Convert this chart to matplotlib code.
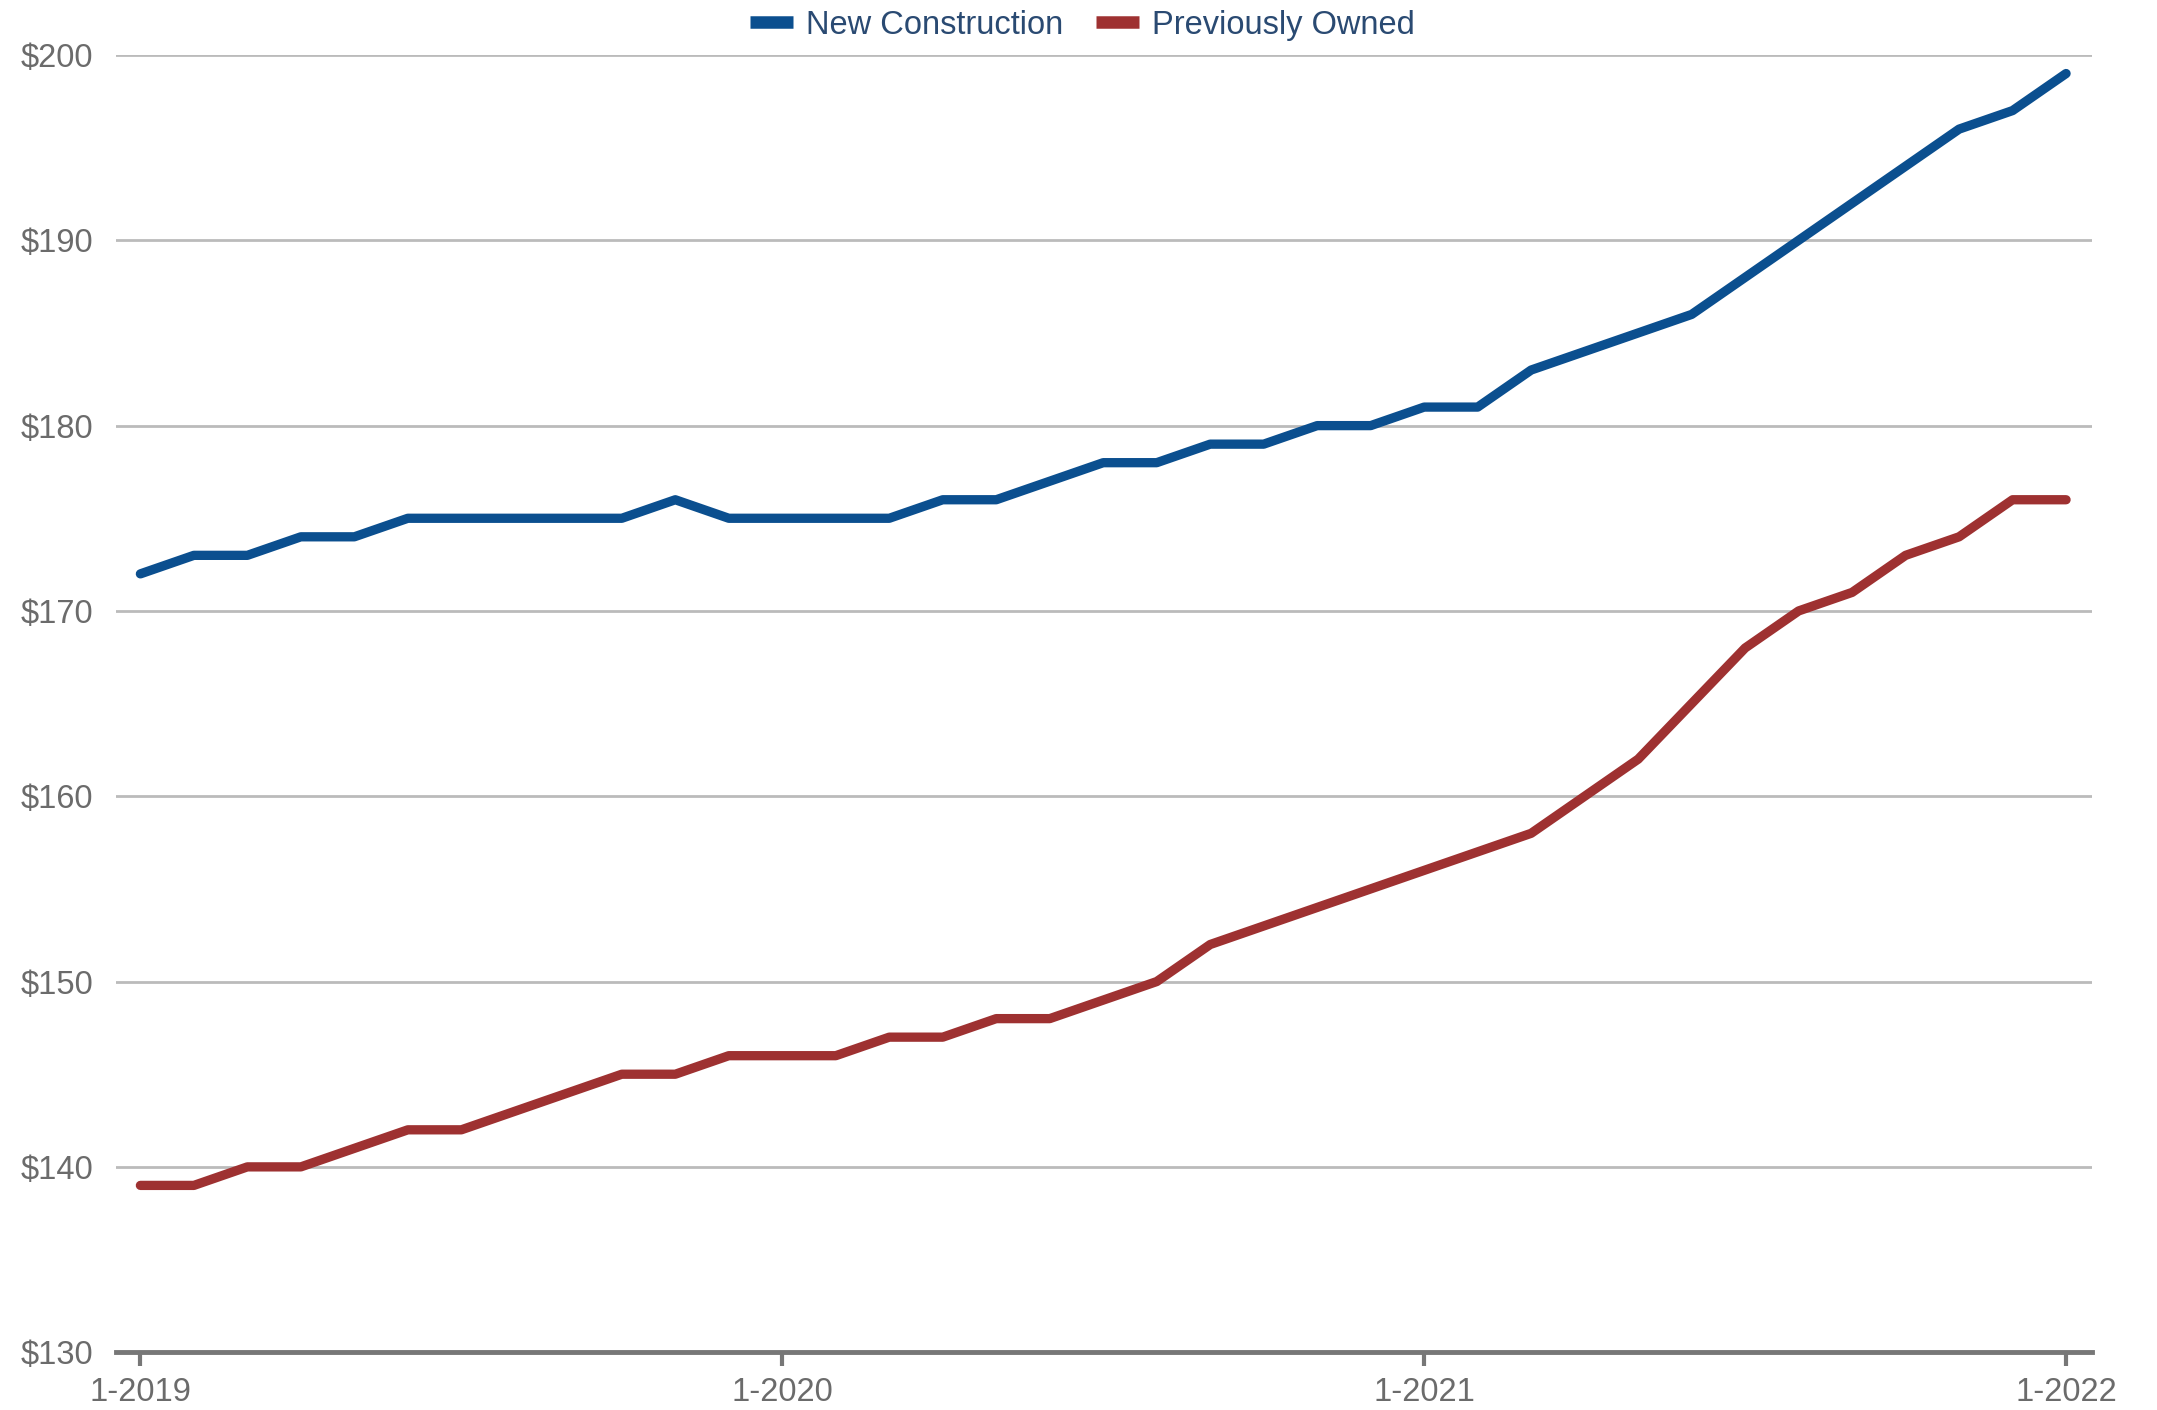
import matplotlib
matplotlib.use("Agg")
import matplotlib.pyplot as plt

plt.rcParams['font.family'] = ['Liberation Sans', 'DejaVu Sans']

months = list(range(37))
tick_pos = [0, 12, 24, 36]
tick_labels = ["1-2019", "1-2020", "1-2021", "1-2022"]
y_ticks = [130, 140, 150, 160, 170, 180, 190, 200]
y_labels = ["$130", "$140", "$150", "$160", "$170", "$180", "$190", "$200"]

new_construction = [172, 173, 173, 174, 174, 175, 175, 175, 175, 175, 176, 175,
                    175, 175, 175, 176, 176, 177, 178, 178, 179, 179, 180, 180,
                    181, 181, 183, 184, 185, 186, 188, 190, 192, 194, 196, 197,
                    199]
previously_owned = [139, 139, 140, 140, 141, 142, 142, 143, 144, 145, 145, 146,
                    146, 146, 147, 147, 148, 148, 149, 150, 152, 153, 154, 155,
                    156, 157, 158, 160, 162, 165, 168, 170, 171, 173, 174, 176,
                    176]

fig = plt.figure(figsize=(21.57, 14.10), dpi=100)
ax = fig.add_axes([0.0536, 0.041, 0.9164, 0.920])

ax.plot(months, new_construction, color="#0b4f8f", lw=6.7, label="New Construction",
        solid_capstyle="round", solid_joinstyle="round", zorder=3)
ax.plot(months, previously_owned, color="#9e3131", lw=6.7, label="Previously Owned",
        solid_capstyle="round", solid_joinstyle="round", zorder=3)

ax.set_xlim(-0.463, 36.49)
ax.set_ylim(130, 200)
ax.set_yticks(y_ticks)
ax.set_yticklabels(y_labels)
ax.set_xticks(tick_pos)
ax.set_xticklabels(tick_labels)

for yv in y_ticks[1:]:
    ax.axhline(yv, color="#bbbbbb", lw=2.0, zorder=1)

for s in ["top", "right", "left"]:
    ax.spines[s].set_visible(False)
ax.spines["bottom"].set_color("#777777")
ax.spines["bottom"].set_linewidth(3.5)
ax.spines["bottom"].set_zorder(2)

ax.tick_params(axis="y", length=0, pad=16, labelsize=23.5, labelcolor="#6b6b6b")
ax.tick_params(axis="x", length=10, width=3, color="#777777", pad=8,
               labelsize=23.5, labelcolor="#6b6b6b")

leg = fig.legend(loc="center", bbox_to_anchor=(0.502, 0.982), ncol=2, frameon=False,
                 fontsize=23.5, handlelength=1.3, handletextpad=0.42, columnspacing=1.0)
for t in leg.get_texts():
    t.set_color("#2a4a72")
for h in leg.get_lines():
    h.set_linewidth(9)
    h.set_solid_capstyle("butt")

fig.savefig("out.png", dpi=100)
